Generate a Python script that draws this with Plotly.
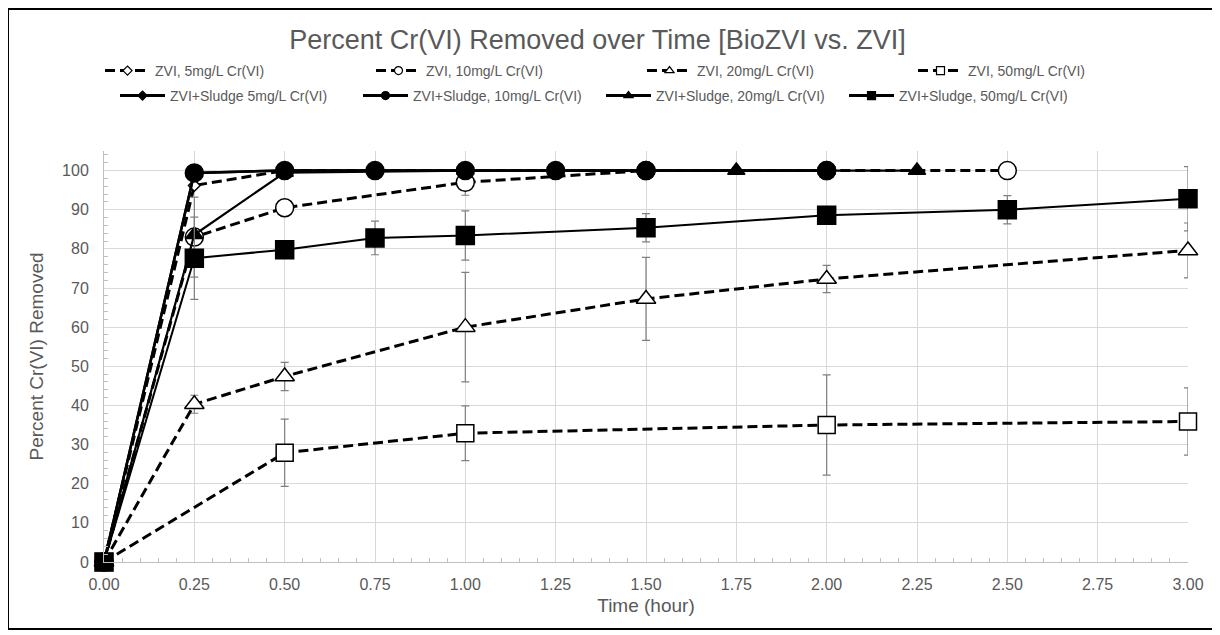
import plotly.graph_objects as go

# ---------------- data ----------------
zvi5_t = [0, 0.25, 0.5, 1.0, 1.5, 2.0]
zvi5_y = [0, 96.2, 100, 100, 100, 100]

zvi10_t = [0, 0.25, 0.5, 1.0, 1.5, 2.0, 2.5]
zvi10_y = [0, 83.0, 90.5, 97.0, 100, 100, 100]
zvi10_err = [0, 10.2, 0, 3.3, 0, 0, 0]

zvi20_t = [0, 0.25, 0.5, 1.0, 1.5, 2.0, 3.0]
zvi20_y = [0, 40.3, 47.4, 60.0, 67.2, 72.3, 79.6]
zvi20_err = [0, 2.3, 3.6, 14.0, 10.6, 3.5, 7.0]

zvi50_t = [0, 0.5, 1.0, 2.0, 3.0]
zvi50_y = [0, 27.9, 32.9, 35.0, 35.9]
zvi50_err = [0, 8.6, 7.0, 12.8, 8.6]

sl5_t = [0, 0.25, 0.5, 1.0, 1.5, 2.0]
sl5_y = [0, 99.4, 100, 100, 100, 100]

sl10_t = [0, 0.25, 0.5, 0.75, 1.0, 1.25, 1.5, 2.0]
sl10_y = [0, 99.4, 100, 100, 100, 100, 100, 100]

sl20_t = [0, 0.25, 0.5, 1.0, 1.5, 1.75, 2.0, 2.25]
sl20_y = [0, 83.6, 99.5, 100, 100, 100, 100, 100]

sl50_t = [0, 0.25, 0.5, 0.75, 1.0, 1.5, 2.0, 2.5, 3.0]
sl50_y = [0, 77.6, 79.8, 82.8, 83.4, 85.4, 88.6, 90.0, 92.8]
sl50_err = [0, 10.5, 0, 4.3, 6.3, 3.6, 0, 3.6, 8.2]

names = [
    "ZVI, 5mg/L Cr(VI)", "ZVI, 10mg/L Cr(VI)", "ZVI, 20mg/L Cr(VI)", "ZVI, 50mg/L Cr(VI)",
    "ZVI+Sludge 5mg/L Cr(VI)", "ZVI+Sludge, 10mg/L Cr(VI)",
    "ZVI+Sludge, 20mg/L Cr(VI)", "ZVI+Sludge, 50mg/L Cr(VI)",
]

# ---------------- styles ----------------
FONT = "Liberation Sans, Arial, sans-serif"
GRAY_TXT = "#595959"
DASH = "10px,5px"
ERRC = "#7f7f7f"

# page is offset by the 8px body margin; size the figure so it fills the window
W, H = 1212, 627
ML, MR, MT, MB = 96, 32, 143, 73

series = [
    # t, y, err, name, dash, lw, symbol, size, fill, legend symbol size, legend
    (zvi5_t, zvi5_y, None, names[0], DASH, 3, "diamond", 9, "white", 7, "legend"),
    (zvi10_t, zvi10_y, zvi10_err, names[1], DASH, 3, "circle", 18, "white", 8, "legend"),
    (zvi20_t, zvi20_y, zvi20_err, names[2], DASH, 3, "triangle-up", 17, "white", 8, "legend"),
    (zvi50_t, zvi50_y, zvi50_err, names[3], DASH, 3, "square", 17, "white", 8, "legend"),
    (sl5_t, sl5_y, None, names[4], "solid", 2.5, "diamond", 8, "black", 7, "legend2"),
    (sl10_t, sl10_y, None, names[5], "solid", 2.5, "circle", 18, "black", 8, "legend2"),
    (sl20_t, sl20_y, None, names[6], "solid", 2.2, "triangle-up", 15, "black", 8, "legend2"),
    (sl50_t, sl50_y, sl50_err, names[7], "solid", 2.0, "square", 18, "black", 8, "legend2"),
]

fig = go.Figure()
for t, y, err, name, dash, lw, sym, size, fill, lsize, leg in series:
    kw = {}
    if err is not None:
        kw["error_y"] = dict(type="data", array=err, visible=True, color=ERRC,
                             thickness=1.2, width=4)
    fig.add_trace(go.Scatter(
        x=t, y=y, mode="lines+markers", name=name, showlegend=False,
        line=dict(color="black", width=lw, dash=dash),
        marker=dict(symbol=sym, size=size, color=fill,
                    line=dict(color="black", width=1.5)),
        cliponaxis=False, **kw))

# legend entries (small markers like the reference legend)
for t, y, err, name, dash, lw, sym, size, fill, lsize, leg in series:
    fig.add_trace(go.Scatter(
        x=[None], y=[None], mode="lines+markers", name=name, showlegend=True,
        legend=leg,
        line=dict(color="black", width=3, dash=dash),
        marker=dict(symbol=sym, size=lsize, color=fill,
                    line=dict(color="black", width=1.2))))

pw = W - ML - MR
ph = H - MT - MB


def px_x(p):
    return (p - ML) / pw


def px_y(p):
    return (H - MB - p) / ph


fig.add_shape(type="rect", xref="paper", yref="paper",
              x0=px_x(0), x1=px_x(1205), y0=px_y(621), y1=px_y(1),
              line=dict(color="black", width=2), fillcolor="rgba(0,0,0,0)",
              layer="below")

fig.update_layout(
    width=W, height=H,
    margin=dict(l=ML, r=MR, t=MT, b=MB),
    paper_bgcolor="white", plot_bgcolor="white",
    font=dict(family=FONT, color=GRAY_TXT, size=14),
    title=dict(text="Percent Cr(VI) Removed over Time [BioZVI vs. ZVI]",
               x=589.5 / W, xref="container", xanchor="center",
               y=1 - 32 / H, yref="container", yanchor="middle",
               font=dict(size=27, color=GRAY_TXT, family=FONT)),
    legend=dict(orientation="h", xref="container", yref="container",
                x=92 / W, xanchor="left", y=1 - 47 / H, yanchor="top",
                entrywidth=211, itemwidth=45,
                font=dict(size=14, color=GRAY_TXT),
                bgcolor="rgba(0,0,0,0)", traceorder="normal"),
    legend2=dict(orientation="h", xref="container", yref="container",
                 x=107 / W, xanchor="left", y=1 - 72 / H, yanchor="top",
                 entrywidth=183, itemwidth=45,
                 font=dict(size=14, color=GRAY_TXT),
                 bgcolor="rgba(0,0,0,0)", traceorder="normal"),
    xaxis=dict(range=[0, 3], dtick=0.25, tick0=0, tickformat=".2f",
               showgrid=True, gridcolor="#d9d9d9", gridwidth=1,
               showline=True, linecolor="#bfbfbf", linewidth=1,
               zeroline=False, ticks="", ticklabelstandoff=8,
               tickfont=dict(size=16, color=GRAY_TXT),
               minor=dict(dtick=0.05, ticks="inside", ticklen=4,
                          tickcolor="#bfbfbf", showgrid=False),
               title=dict(text="Time (hour)", font=dict(size=19, color=GRAY_TXT),
                          standoff=6)),
    yaxis=dict(range=[0, 105], dtick=10, tick0=0,
               showgrid=True, gridcolor="#d9d9d9", gridwidth=1,
               showline=True, linecolor="#bfbfbf", linewidth=1,
               zeroline=False, ticks="", ticklabelstandoff=11,
               tickfont=dict(size=16, color=GRAY_TXT),
               minor=dict(dtick=2, ticks="inside", ticklen=4,
                          tickcolor="#bfbfbf", showgrid=False),
               title=dict(text="Percent Cr(VI) Removed",
                          font=dict(size=19, color=GRAY_TXT), standoff=13)),
)

fig.write_html("out.html")
